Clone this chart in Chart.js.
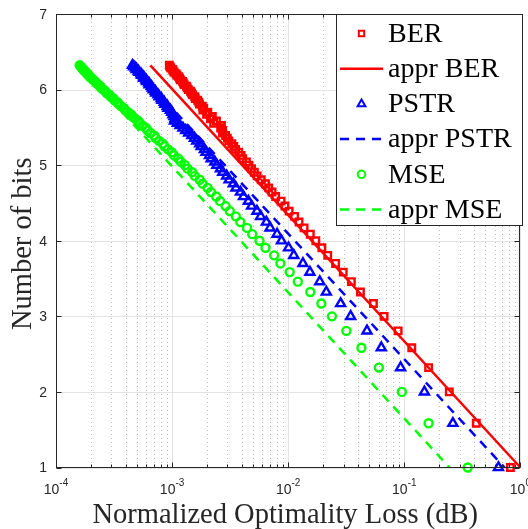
<!DOCTYPE html>
<html>
<head>
<meta charset="utf-8">
<script src="https://cdn.jsdelivr.net/npm/chart.js@4.4.0/dist/chart.umd.min.js"></script>
<style>
  html, body { margin: 0; padding: 0; background: #fff; }
  #wrap { width: 528px; height: 529px; }
</style>
</head>
<body>
<div id="wrap"><canvas id="chart" width="528" height="529"></canvas></div>
<script>
// number of bits (same for all three series)
const bits = [1,1.585,2,2.322,2.585,2.807,3,3.17,3.322,3.459,
  3.585,3.7,3.807,3.907,4,4.087,4.17,4.248,4.322,4.392,
  4.459,4.524,4.585,4.644,4.7,4.755,4.807,4.858,4.907,4.954,
  5,5.044,5.087,5.129,5.17,5.209,5.248,5.285,5.322,5.358,
  5.392,5.426,5.459,5.492,5.524,5.555,5.585,5.615,5.644,5.672,
  5.7,5.728,5.755,5.781,5.807,5.833,5.858,5.883,5.907,5.931,
  5.954,5.977,6,6.022,6.044,6.066,6.087,6.109,6.129,6.15,
  6.17,6.19,6.209,6.229,6.248,6.267,6.285,6.304,6.322];

const berLoss = [0.82,0.417,0.244,0.162,0.116,0.0885,0.067,0.0542,0.0419,0.035,
  0.0298,0.0256,0.0219,0.0195,0.0173,0.0155,0.0137,0.0124,0.01135,0.01019,
  0.00938,0.00869,0.0078,0.00726,0.00679,0.00637,0.00586,0.0054,0.00511,0.00483,
  0.00459,0.00437,0.00406,0.00393,0.00375,0.00352,0.0034,0.00327,0.00308,0.00299,
  0.00289,0.00272,0.00272,0.00262,0.00266,0.00228,0.00241,0.00214,0.00222,0.00198,
  0.00203,0.00184,0.00187,0.00182,0.00172,0.0017,0.00166,0.00158,0.00157,0.0015,
  0.00147,0.00144,0.00138,0.00135,0.00133,0.00127,0.00125,0.00123,0.00118,0.00116,
  0.00114,0.0011,0.00108,0.00104,0.00102,0.00101,0.000973,0.000959,0.000946];

const pstrLoss = [0.647,0.262,0.149,0.0929,0.0634,0.0477,0.0345,0.0283,0.0213,0.0187,
  0.01538,0.0134,0.01117,0.01007,0.00875,0.00802,0.00698,0.00649,0.00579,0.00538,
  0.00484,0.00454,0.00412,0.00388,0.00355,0.00337,0.0031,0.00295,0.00273,0.00261,
  0.00243,0.00233,0.00217,0.0021,0.00196,0.0019,0.00178,0.00173,0.00163,0.00156,
  0.00148,0.00139,0.00131,0.00124,0.00117,0.00111,0.00105,0.00106,0.00104,0.00102,
  0.000995,0.000968,0.000923,0.00091,0.000869,0.000857,0.000818,0.000809,0.000774,0.000757,
  0.000724,0.000718,0.000689,0.000675,0.000662,0.000635,0.000631,0.000605,0.000596,0.000571,
  0.000569,0.000547,0.00054,0.000519,0.000511,0.000492,0.000485,0.000468,0.000456];

const mseLoss = [0.352,0.162,0.0953,0.0604,0.0427,0.0317,0.0238,0.0193,0.0155,0.0121,
  0.0103,0.00857,0.00757,0.00637,0.00566,0.0049,0.00442,0.00387,0.00354,0.00314,
  0.00289,0.00259,0.0024,0.00216,0.00202,0.00183,0.00173,0.00157,0.00149,0.00136,
  0.00129,0.00119,0.00113,0.00104,0.000995,0.000923,0.000863,0.00083,0.000771,0.000724,
  0.0007,0.000652,0.000615,0.000596,0.000556,0.000527,0.000512,0.00048,0.000455,0.000443,
  0.000416,0.000395,0.000385,0.000363,0.000347,0.000338,0.000319,0.000312,0.000295,0.000288,
  0.000273,0.000267,0.000256,0.000245,0.000241,0.000231,0.000222,0.000218,0.000209,0.000203,
  0.000195,0.000192,0.000185,0.000182,0.000175,0.000173,0.000167,0.000164,0.00016];

// approximation lines (straight on this log-x axis, so two ends are enough)
const apprBits = [6.32, 1];
const apprBerLoss = [6.5e-4, 1];
const apprPstrLoss = [4.56e-4, 0.73];
const apprMseLoss = [1.58e-4, 0.245];

// axes
const xTickExps = [-4, -3, -2, -1, 0];
const yTicks = [1, 2, 3, 4, 5, 6, 7];

const RED = '#ff0000', BLUE = '#0000ff', GREEN = '#00ff00';
const AXIS = '#262626';
const SANS = '"Liberation Sans", Arial, Helvetica, sans-serif';
const SERIF = '"Liberation Serif", "Times New Roman", serif';

const pts = (xs, ys) => xs.map((v, i) => ({ x: v, y: ys[i] }));

function markerSet(label, loss, style, color, radius, order) {
    return {
        label, data: pts(loss, bits), showLine: false,
        pointStyle: style, pointRadius: radius, pointBorderWidth: 2.4,
        borderColor: color, pointBorderColor: color,
        backgroundColor: 'rgba(0,0,0,0)', pointBackgroundColor: 'rgba(0,0,0,0)',
        order, clip: false
    };
}

function lineSet(label, loss, color, dash, order) {
    return {
        label, data: pts(loss, apprBits), showLine: true,
        pointRadius: 0, borderColor: color, borderWidth: 2.5, borderDash: dash,
        backgroundColor: color, order, clip: false
    };
}

// little marker shapes for the legend box
function drawMarker(ctx, style, cx, cy, r, color) {
    ctx.save();
    ctx.strokeStyle = color;
    ctx.lineWidth = 2;
    ctx.beginPath();
    if (style === 'rect') {
        const s = r * Math.SQRT1_2;
        ctx.rect(cx - s, cy - s, 2 * s, 2 * s);
    } else if (style === 'triangle') {
        ctx.moveTo(cx, cy - r);
        ctx.lineTo(cx + r * 0.866, cy + r * 0.5);
        ctx.lineTo(cx - r * 0.866, cy + r * 0.5);
        ctx.closePath();
    } else {
        ctx.arc(cx, cy, r, 0, Math.PI * 2);
    }
    ctx.stroke();
    ctx.restore();
}

const frame = {
    id: 'frame',
    beforeDatasetsDraw(chart) {
        const { ctx, chartArea: a, scales: { x, y } } = chart;
        ctx.save();
        ctx.lineWidth = 1;
        // minor x grid, dotted
        ctx.strokeStyle = 'rgba(38,38,38,0.3)';
        ctx.setLineDash([1, 3]);
        xTickExps.slice(0, -1).forEach(e => {
            for (let k = 2; k <= 9; k++) {
                const px = Math.round(x.getPixelForValue(k * Math.pow(10, e))) + 0.5;
                ctx.beginPath(); ctx.moveTo(px, a.top); ctx.lineTo(px, a.bottom); ctx.stroke();
            }
        });
        // major grid
        ctx.setLineDash([]);
        ctx.strokeStyle = '#e3e3e3';
        xTickExps.forEach(e => {
            const px = Math.round(x.getPixelForValue(Math.pow(10, e))) + 0.5;
            ctx.beginPath(); ctx.moveTo(px, a.top); ctx.lineTo(px, a.bottom); ctx.stroke();
        });
        yTicks.forEach(v => {
            const py = Math.round(y.getPixelForValue(v)) + 0.5;
            ctx.beginPath(); ctx.moveTo(a.left, py); ctx.lineTo(a.right, py); ctx.stroke();
        });
        ctx.restore();
    },
    afterDatasetsDraw(chart) {
        const { ctx, chartArea: a, scales: { x, y } } = chart;
        const L = Math.round(a.left) + 0.5, R = Math.round(a.right) - 0.5;
        const T = Math.round(a.top) + 0.5, B = Math.round(a.bottom) - 0.5;
        ctx.save();
        ctx.strokeStyle = AXIS;
        ctx.lineWidth = 1;
        ctx.strokeRect(L, T, R - L, B - T);

        // tick marks (inside)
        ctx.beginPath();
        xTickExps.forEach((e, i) => {
            const px = Math.round(x.getPixelForValue(Math.pow(10, e))) + 0.5;
            ctx.moveTo(px, B); ctx.lineTo(px, B - 5);
            ctx.moveTo(px, T); ctx.lineTo(px, T + 5);
            if (i < xTickExps.length - 1) {
                for (let k = 2; k <= 9; k++) {
                    const mx = Math.round(x.getPixelForValue(k * Math.pow(10, e))) + 0.5;
                    ctx.moveTo(mx, B); ctx.lineTo(mx, B - 3);
                    ctx.moveTo(mx, T); ctx.lineTo(mx, T + 3);
                }
            }
        });
        yTicks.forEach(v => {
            const py = Math.round(y.getPixelForValue(v)) + 0.5;
            ctx.moveTo(L, py); ctx.lineTo(L + 5, py);
            ctx.moveTo(R, py); ctx.lineTo(R - 5, py);
        });
        ctx.stroke();

        // tick labels
        ctx.fillStyle = AXIS;
        ctx.font = '14px ' + SANS;
        ctx.textAlign = 'right';
        ctx.textBaseline = 'middle';
        yTicks.forEach(v => ctx.fillText(String(v), a.left - 9, y.getPixelForValue(v) + 1));

        ctx.textBaseline = 'alphabetic';
        ctx.textAlign = 'left';
        xTickExps.forEach(e => {
            const px = x.getPixelForValue(Math.pow(10, e));
            ctx.font = '14px ' + SANS;
            const wb = ctx.measureText('10').width;
            ctx.font = '10px ' + SANS;
            const ws = ctx.measureText(String(e)).width;
            const x0 = px - (wb + ws) / 2;
            ctx.font = '14px ' + SANS;
            ctx.fillText('10', x0, 494);
            ctx.font = '10px ' + SANS;
            ctx.fillText(String(e), x0 + wb, 486);
        });

        // axis titles
        ctx.font = '28.5px ' + SERIF;
        ctx.textAlign = 'center';
        ctx.fillText('Normalized Optimality Loss (dB)', (a.left + a.right) / 2 - 3, 523);
        ctx.save();
        ctx.translate(31, (a.top + a.bottom) / 2 + 3);
        ctx.rotate(-Math.PI / 2);
        ctx.fillText('Number of bits', 0, 0);
        ctx.restore();

        // legend box
        const lx = 336.5, ly = 14.5, lw = 186, lh = 211;
        ctx.fillStyle = '#fff';
        ctx.fillRect(lx, ly, lw, lh);
        ctx.strokeStyle = AXIS;
        ctx.strokeRect(lx, ly, lw, lh);
        ctx.font = '28px ' + SERIF;
        ctx.textAlign = 'left';
        ctx.textBaseline = 'middle';
        chart.data.datasets.forEach((ds, i) => {
            const cy = 33.5 + i * 35.2;
            if (ds.showLine) {
                ctx.save();
                ctx.strokeStyle = ds.borderColor;
                ctx.lineWidth = 2.5;
                ctx.setLineDash(ds.borderDash || []);
                ctx.beginPath(); ctx.moveTo(340, cy); ctx.lineTo(383, cy); ctx.stroke();
                ctx.restore();
            } else {
                drawMarker(ctx, ds.pointStyle, 361.5, cy, ds.pointStyle === 'triangle' ? 4.5 : 3.8, ds.borderColor);
            }
            ctx.fillStyle = '#000';
            ctx.fillText(ds.label, 388, cy + 1);
        });
        ctx.restore();
    }
};

new Chart(document.getElementById('chart'), {
    type: 'scatter',
    data: {
        datasets: [
            markerSet('BER', berLoss, 'rect', RED, 4.6, 6),
            lineSet('appr BER', apprBerLoss, RED, [], 5),
            markerSet('PSTR', pstrLoss, 'triangle', BLUE, 5.2, 4),
            lineSet('appr PSTR', apprPstrLoss, BLUE, [9, 7], 3),
            markerSet('MSE', mseLoss, 'circle', GREEN, 4, 2),
            lineSet('appr MSE', apprMseLoss, GREEN, [9, 7], 1)
        ]
    },
    options: {
        responsive: false,
        animation: false,
        events: [],
        layout: { padding: { left: 56, right: 7, top: 14, bottom: 61.5 } },
        scales: {
            x: { type: 'logarithmic', min: 1e-4, max: 1, display: false },
            y: { type: 'linear', min: 1, max: 7, display: false }
        },
        plugins: { legend: { display: false }, tooltip: { enabled: false } }
    },
    plugins: [frame]
});
</script>
</body>
</html>
